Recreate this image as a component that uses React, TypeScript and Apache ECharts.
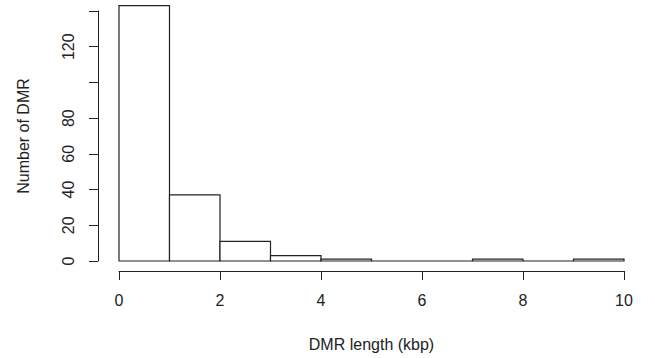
import React, { useEffect, useRef } from "react";
import * as echarts from "echarts";

const binStarts = [0, 1, 2, 3, 4, 5, 6, 7, 8, 9];
const binWidth = 1;
const counts = [143, 37, 11, 3, 1, 0, 0, 1, 0, 1];
const yTicks = [0, 20, 40, 60, 80, 100, 120, 140];
const yLabelShown = ["0", "20", "40", "60", "80", "", "120", ""];

export default function App() {
  const ref = useRef<HTMLDivElement>(null);
  useEffect(() => {
    if (!ref.current) return;
    const chart = echarts.init(ref.current, undefined, { renderer: "svg" });
    const font = "Liberation Sans, Arial, sans-serif";
    const ink = "#222";
    const data = binStarts.map((s, i) => [s, s + binWidth, counts[i]]);
    chart.setOption({
      animation: false,
      backgroundColor: "#fff",
      grid: { left: 119, right: 31, top: 11, bottom: 97 },
      xAxis: {
        type: "value",
        min: 0,
        max: 10,
        interval: 2,
        offset: 10,
        name: "DMR length (kbp)",
        nameLocation: "middle",
        nameGap: 65,
        nameTextStyle: { fontFamily: font, fontSize: 16, color: ink },
        axisLine: { show: true, onZero: false, lineStyle: { color: ink, width: 1 } },
        axisTick: { show: true, length: 9, lineStyle: { color: ink } },
        axisLabel: { margin: 21, fontFamily: font, fontSize: 16, color: ink, showMinLabel: true, showMaxLabel: true },
        splitLine: { show: false },
      },
      yAxis: {
        type: "value",
        min: 0,
        max: 140,
        interval: 20,
        offset: 21,
        name: "Number of DMR",
        nameLocation: "middle",
        nameGap: 67,
        nameTextStyle: { fontFamily: font, fontSize: 16, color: ink },
        axisLine: { show: true, onZero: false, lineStyle: { color: ink, width: 1 } },
        axisTick: { show: true, length: 9, lineStyle: { color: ink } },
        axisLabel: {
          rotate: 90,
          margin: 22,
          fontFamily: font,
          fontSize: 16,
          color: ink,
          showMaxLabel: true,
          formatter: (v: number) => {
            const i = yTicks.indexOf(v);
            return i >= 0 ? yLabelShown[i] : "";
          },
        },
        splitLine: { show: false },
      },
      series: [
        {
          type: "custom",
          clip: false,
          data,
          encode: { x: [0, 1], y: 2 },
          renderItem: (params: any, api: any) => {
            const x0 = api.value(0);
            const x1 = api.value(1);
            const c = api.value(2);
            const p0 = api.coord([x0, 0]);
            const p1 = api.coord([x1, c]);
            return {
              type: "rect",
              shape: { x: p0[0], y: p1[1], width: p1[0] - p0[0], height: p0[1] - p1[1] },
              style: { fill: "#fff", stroke: ink, lineWidth: 1.2 },
            };
          },
        },
      ],
    });
    return () => chart.dispose();
  }, []);
  return <div ref={ref} style={{ position: "absolute", left: 0, top: 0, width: 655, height: 358 }} />;
}
